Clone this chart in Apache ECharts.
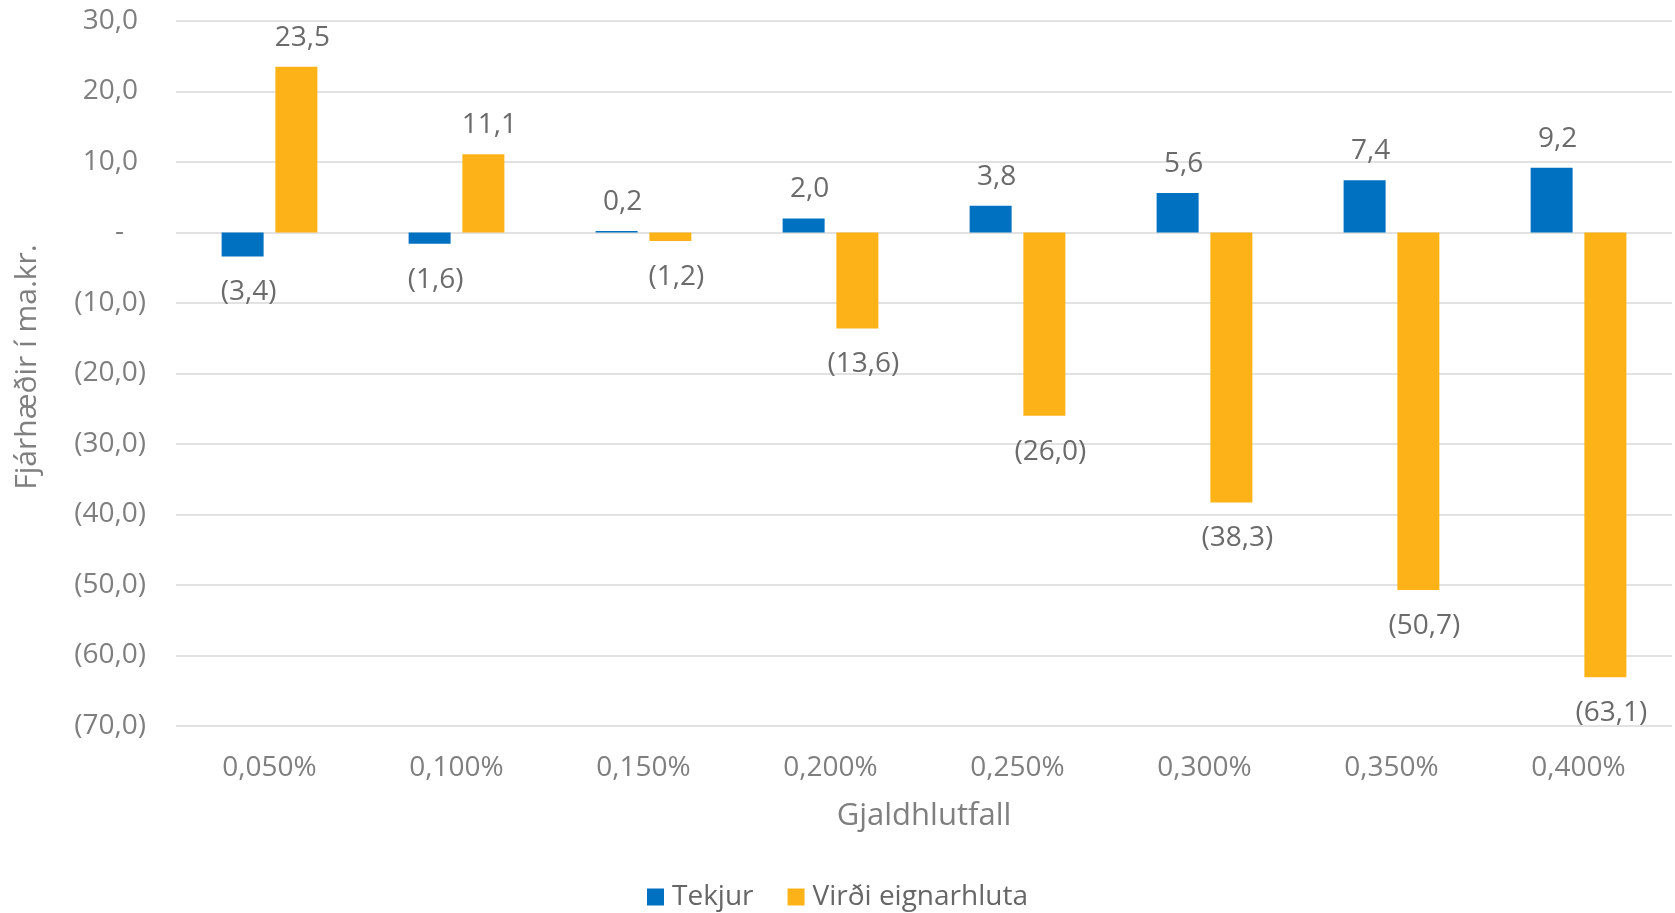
<!DOCTYPE html>
<html>
<head>
<meta charset="utf-8">
<script src="https://cdn.jsdelivr.net/npm/echarts@6/dist/echarts.min.js"></script>
<style>
html,body{margin:0;padding:0;background:#fff;}
#chart{width:1675px;height:913px;}
</style>
</head>
<body>
<div id="chart"></div>
<script>
var categories = ['0,050%', '0,100%', '0,150%', '0,200%', '0,250%', '0,300%', '0,350%', '0,400%'];
var tekjur = [-3.4, -1.6, 0.2, 2.0, 3.8, 5.6, 7.4, 9.2];
var virdi = [23.5, 11.1, -1.2, -13.6, -26.0, -38.3, -50.7, -63.1];
var seriesNames = ['Tekjur', 'Virði eignarhluta'];
var yTitle = 'Fjárhæðir í ma.kr.';
var xTitle = 'Gjaldhlutfall';

var FONT = 'Open Sans';
var AXIS_COLOR = '#7f7f7f';
var LABEL_COLOR = '#6b6b6b';

function fmt(v) {
  var s = Math.abs(v).toFixed(1).replace('.', ',');
  return v < 0 ? '(' + s + ')' : s;
}
function toData(arr) {
  return arr.map(function (v) {
    return {
      value: v,
      label: { position: v < 0 ? 'bottom' : 'top', distance: v < 0 ? 22 : 15 }
    };
  });
}

var chart = echarts.init(document.getElementById('chart'));
chart.setOption({
  animation: false,
  backgroundColor: '#fff',
  grid: { left: 176, right: 3, top: 21, bottom: 187, containLabel: false },
  xAxis: {
    type: 'category',
    data: categories,
    axisLine: { show: false, onZero: false },
    axisTick: { show: false },
    axisLabel: { color: AXIS_COLOR, fontFamily: FONT, fontSize: 28, margin: 28 },
    name: xTitle,
    nameLocation: 'middle',
    nameGap: 75,
    nameTextStyle: { color: AXIS_COLOR, fontFamily: FONT, fontSize: 31 }
  },
  yAxis: {
    type: 'value',
    min: -70,
    max: 30,
    interval: 10,
    axisLine: { show: false },
    axisTick: { show: false },
    splitLine: { lineStyle: { color: '#d9d9d9', width: 1.5 } },
    axisLabel: {
      margin: 30,
      formatter: function (v) {
        if (v === 0) return '{z|-}';
        if (v > 0) return '{p|' + fmt(v) + '}';
        return '{n|' + fmt(v) + '}';
      },
      rich: {
        p: { color: AXIS_COLOR, fontFamily: FONT, fontSize: 28, padding: [0, 8, 0, 0] },
        n: { color: AXIS_COLOR, fontFamily: FONT, fontSize: 28 },
        z: { color: AXIS_COLOR, fontFamily: FONT, fontSize: 28, padding: [0, 22, 0, 0] }
      }
    }
  },
  legend: {
    data: seriesNames,
    left: 'center',
    top: 878,
    itemWidth: 17,
    itemHeight: 17,
    itemGap: 34,
    icon: 'rect',
    textStyle: { color: '#666', fontFamily: FONT, fontSize: 28, padding: [0, 0, 0, 3] }
  },
  graphic: [{
    type: 'text',
    x: 27,
    y: 367,
    rotation: Math.PI / 2,
    style: {
      text: yTitle,
      x: 0, y: 0,
      align: 'center',
      verticalAlign: 'middle',
      fill: AXIS_COLOR,
      font: '30px "Open Sans"'
    }
  }],
  series: [
    {
      name: seriesNames[0],
      type: 'bar',
      data: toData(tekjur),
      barWidth: 42,
      barGap: '28%',
      itemStyle: { color: '#0070C0' },
      label: {
        show: true, color: LABEL_COLOR, fontFamily: FONT, fontSize: 28, offset: [6, 0],
        formatter: function (p) { return fmt(p.value); }
      }
    },
    {
      name: seriesNames[1],
      type: 'bar',
      data: toData(virdi),
      barWidth: 42,
      barGap: '28%',
      itemStyle: { color: '#FDB217' },
      label: {
        show: true, color: LABEL_COLOR, fontFamily: FONT, fontSize: 28, offset: [6, 0],
        formatter: function (p) { return fmt(p.value); }
      }
    }
  ]
});
</script>
</body>
</html>
